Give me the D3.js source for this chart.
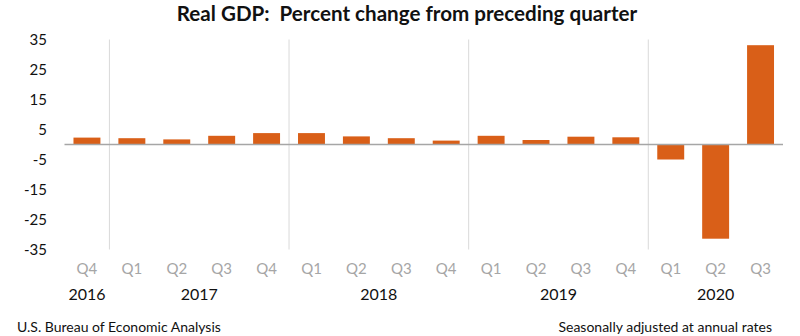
<!DOCTYPE html>
<html>
<head>
<meta charset="utf-8">
<script src="https://cdn.jsdelivr.net/npm/d3@7/dist/d3.min.js"></script>
<style>
  body { margin: 0; background: #fff; }
  svg { display: block; font-family: Lato, "Open Sans", sans-serif; }
</style>
</head>
<body>
<div id="chart"></div>
<script>
var width = 800,
    height = 336;

// data
var quarters = ["Q4", "Q1", "Q2", "Q3", "Q4", "Q1", "Q2", "Q3", "Q4", "Q1", "Q2", "Q3", "Q4", "Q1", "Q2", "Q3"];
var quarterYears = [2016, 2017, 2017, 2017, 2017, 2018, 2018, 2018, 2018, 2019, 2019, 2019, 2019, 2020, 2020, 2020];
var gdpChange = [2.3, 2.1, 1.7, 2.9, 3.8, 3.8, 2.7, 2.1, 1.3, 2.9, 1.5, 2.6, 2.4, -5.0, -31.4, 33.1];
var yTicks = [35, 25, 15, 5, -5, -15, -25, -35];
var yearLabels = [2016, 2017, 2018, 2019, 2020];

var data = gdpChange.map(function(v, i) {
    return { key: quarterYears[i] + quarters[i], q: quarters[i], year: quarterYears[i], value: v };
});

var x = d3.scaleBand()
    .domain(data.map(function(d) { return d.key; }))
    .range([64.5, 783])
    .paddingInner(0.4)
    .paddingOuter(0.2);

var y = d3.scaleLinear()
    .domain([-35, 35])
    .range([249.5, 39.5]);

var svg = d3.select("#chart").append("svg")
    .attr("width", width)
    .attr("height", height);

// title (keep the double space)
svg.append("text")
    .attr("x", 407)
    .attr("y", 21)
    .attr("text-anchor", "middle")
    .style("white-space", "pre")
    .style("font-size", "20.6px")
    .style("font-weight", "bold")
    .style("fill", "#111")
    .text("Real GDP:  Percent change from preceding quarter");

// year separators
var step = x.step();
var firstEdge = x.range()[0];
var separators = [];
data.forEach(function(d, i) {
    if (i > 0 && d.year !== data[i - 1].year) separators.push(firstEdge + i * step);
});
svg.selectAll("line.sep")
    .data(separators)
    .enter().append("line")
    .attr("class", "sep")
    .attr("x1", function(d) { return d; })
    .attr("x2", function(d) { return d; })
    .attr("y1", y(35))
    .attr("y2", y(-35))
    .style("stroke", "#d9d9d9")
    .style("stroke-width", 1);

// y axis labels
svg.selectAll("text.ytick")
    .data(yTicks)
    .enter().append("text")
    .attr("class", "ytick")
    .attr("x", 47)
    .attr("y", function(d) { return y(d); })
    .attr("dy", "0.35em")
    .attr("text-anchor", "end")
    .style("font-size", "15px")
    .style("fill", "#111")
    .text(function(d) { return d; });

// bars
svg.selectAll("rect.bar")
    .data(data)
    .enter().append("rect")
    .attr("class", "bar")
    .attr("x", function(d) { return x(d.key); })
    .attr("width", x.bandwidth())
    .attr("y", function(d) { return y(Math.max(0, d.value)); })
    .attr("height", function(d) { return Math.abs(y(d.value) - y(0)); })
    .style("fill", "#d95f18");

// zero line
svg.append("line")
    .attr("x1", x.range()[0])
    .attr("x2", x.range()[1])
    .attr("y1", y(0))
    .attr("y2", y(0))
    .style("stroke", "#a6a6a6")
    .style("stroke-width", 1.5);

// quarter labels
svg.selectAll("text.qlab")
    .data(data)
    .enter().append("text")
    .attr("class", "qlab")
    .attr("x", function(d) { return x(d.key) + x.bandwidth() / 2; })
    .attr("y", 274)
    .attr("text-anchor", "middle")
    .style("font-size", "15px")
    .style("fill", "#a6a6a6")
    .text(function(d) { return d.q; });

// year labels centred under their quarters
svg.selectAll("text.ylab")
    .data(yearLabels)
    .enter().append("text")
    .attr("class", "ylab")
    .attr("x", function(yr) {
        var ks = data.filter(function(d) { return d.year === yr; });
        var a = x(ks[0].key), b = x(ks[ks.length - 1].key) + x.bandwidth();
        return (a + b) / 2;
    })
    .attr("y", 300)
    .attr("text-anchor", "middle")
    .style("font-size", "16px")
    .style("fill", "#111")
    .text(function(d) { return d; });

// footer
svg.append("text")
    .attr("x", 17)
    .attr("y", 332)
    .style("font-size", "14px")
    .style("fill", "#111")
    .text("U.S. Bureau of Economic Analysis");

svg.append("text")
    .attr("x", 772)
    .attr("y", 332)
    .attr("text-anchor", "end")
    .style("font-size", "14px")
    .style("fill", "#111")
    .text("Seasonally adjusted at annual rates");
</script>
</body>
</html>
